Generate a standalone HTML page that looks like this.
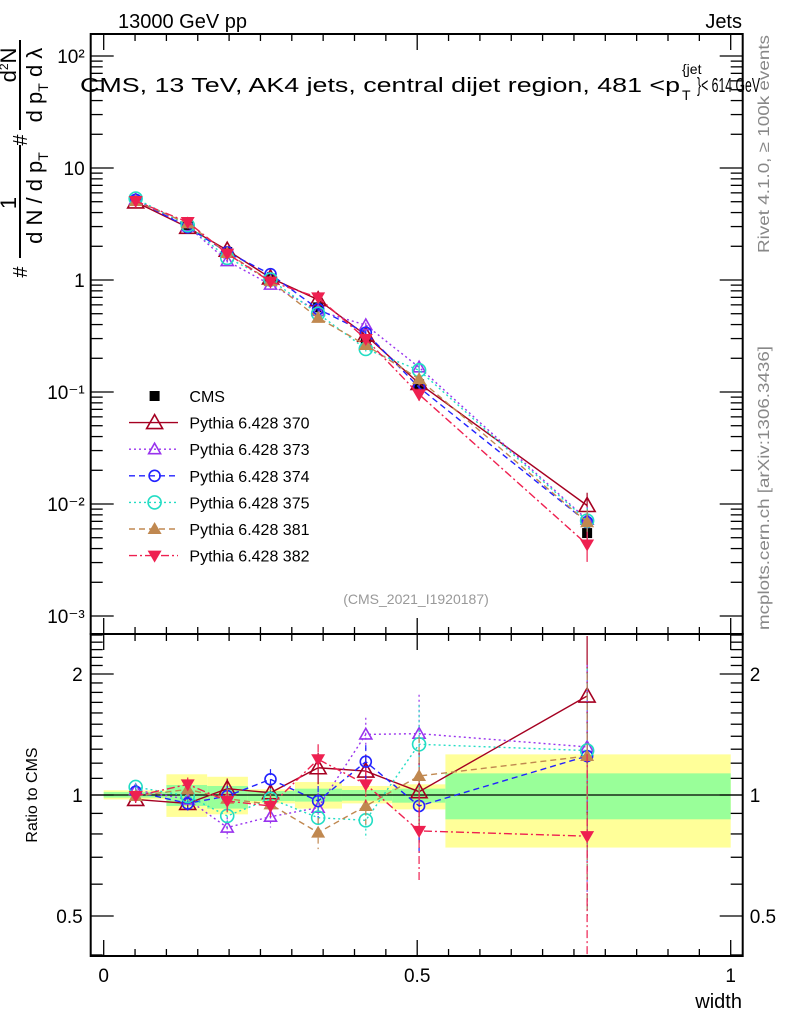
<!DOCTYPE html>
<html><head><meta charset="utf-8"><style>
body{margin:0;background:#fff}
svg text{font-family:"Liberation Sans",sans-serif}
</style></head><body>
<svg id="c" width="786" height="1024" viewBox="0 0 786 1024" xmlns="http://www.w3.org/2000/svg">
<g id="bands"></g>
<g id="marks"></g>
<g id="axes"></g>
<text x="118" y="28" font-size="20">13000 GeV pp</text>
<text x="742" y="28" font-size="20" text-anchor="end">Jets</text>
<text x="80" y="92" font-size="20" textLength="600" lengthAdjust="spacingAndGlyphs">CMS, 13 TeV, AK4 jets, central dijet region, 481 &lt;p</text>
<text x="682" y="74" font-size="14">{jet</text>
<text x="682" y="100" font-size="14">T</text>
<text x="697" y="92" font-size="20" textLength="63" lengthAdjust="spacingAndGlyphs">}&lt; 614 GeV</text>
<text x="416" y="604" font-size="14" fill="#999" text-anchor="middle">(CMS_2021_I1920187)</text>
<text transform="translate(769,144) rotate(-90)" font-size="16" fill="#888" text-anchor="middle" textLength="218" lengthAdjust="spacingAndGlyphs">Rivet 4.1.0, ≥ 100k events</text>
<text transform="translate(769,488) rotate(-90)" font-size="16" fill="#888" text-anchor="middle" textLength="284" lengthAdjust="spacingAndGlyphs">mcplots.cern.ch [arXiv:1306.3436]</text>
<g font-size="22">
<line x1="20" y1="145" x2="20" y2="258" stroke="#000" stroke-width="2"/>
<line x1="20" y1="40" x2="20" y2="130" stroke="#000" stroke-width="2"/>
<text transform="translate(27,272) rotate(-90)" text-anchor="middle" font-size="20">#</text>
<text transform="translate(16,203) rotate(-90)" text-anchor="middle">1</text>
<text transform="translate(42,198) rotate(-90)" text-anchor="middle">d N / d p<tspan font-size="14" dy="6">T</tspan></text>
<text transform="translate(27,140) rotate(-90)" text-anchor="middle" font-size="20">#</text>
<text transform="translate(16,65) rotate(-90)" text-anchor="middle">d<tspan font-size="12" dy="-8">2</tspan><tspan dy="8">N</tspan></text>
<text transform="translate(42,85) rotate(-90)" text-anchor="middle">d p<tspan font-size="14" dy="6">T</tspan><tspan dy="-6"> d λ</tspan></text>
</g>
<text transform="translate(37,795) rotate(-90)" font-size="16" text-anchor="middle">Ratio to CMS</text>
<text x="742" y="1008" font-size="20" text-anchor="end">width</text>
<g id="legend"></g>
</svg>
<script>
const edges=[0,0.1,0.165,0.23,0.305,0.38,0.46,0.545,1];
const xs=[0.051,0.134,0.197,0.266,0.342,0.418,0.503,0.771];
const cms=[5.1,3.1,1.78,1.03,0.57,0.28,0.117,0.0055];
const yelLo=[0.975,0.882,0.895,0.953,0.925,0.953,0.921,0.74];
const yelHi=[1.027,1.126,1.11,1.033,1.077,1.053,1.063,1.262];
const grnLo=[0.985,0.939,0.925,0.966,0.963,0.968,0.957,0.87];
const grnHi=[1.017,1.059,1.053,1.023,1.037,1.029,1.037,1.132];
const r370=[0.975,0.953,1.037,1.013,1.169,1.147,1.019,1.763];
const r373=[1.029,0.975,0.83,0.883,0.93,1.415,1.421,1.317];
const r374=[1.019,0.953,0.994,1.094,0.966,1.21,0.939,1.25];
const r375=[1.047,0.994,0.887,0.979,0.878,0.865,1.337,1.29];
const r381=[0.994,1.033,0.979,0.948,0.806,0.939,1.115,1.25];
const r382=[0.994,1.063,0.966,0.939,1.227,1.063,0.814,0.79];
const relErr=[0.02,0.04,0.06,0.06,0.09,0.1,0.25,0.6];
const legendLabels=["CMS","Pythia 6.428 370","Pythia 6.428 373","Pythia 6.428 374","Pythia 6.428 375","Pythia 6.428 381","Pythia 6.428 382"];
const yTickLabels=["10⁻³","10⁻²","10⁻¹","1","10","10²"];
const rTickVals=[0.5,1,2];
const xTickVals=[0,0.5,1];

const NS="http://www.w3.org/2000/svg";
const L=90.7,R=742.7,T=34,MB=634,RB=956;
const X=v=>103.7+v*627;
const Y=v=>56+(2-Math.log10(v))*112;
const RY=v=>795-Math.log2(v)*121;
function mk(tag,at,parent){const e=document.createElementNS(NS,tag);for(const k in at)e.setAttribute(k,at[k]);parent.appendChild(e);return e;}
const bands=document.getElementById('bands'),marks=document.getElementById('marks'),axes=document.getElementById('axes'),leg=document.getElementById('legend');

for(let i=0;i<xs.length;i++){
  let e=mk('rect',{x:X(edges[i]),y:RY(yelHi[i]),width:X(edges[i+1])-X(edges[i]),height:RY(yelLo[i])-RY(yelHi[i]),fill:'#ffff99'},bands);
  
  
  e=mk('rect',{x:X(edges[i]),y:RY(grnHi[i]),width:X(edges[i+1])-X(edges[i]),height:RY(grnLo[i])-RY(grnHi[i]),fill:'#99ff99'},bands);
  
  
}
const series=[
 {r:r370,c:'#a50021',d:'',m:'tri-open'},
 {r:r373,c:'#9933ee',d:'2,3',m:'tri-open-s'},
 {r:r374,c:'#2222ff',d:'6,4',m:'circ-open-s'},
 {r:r375,c:'#22ddc4',d:'2,3',m:'circ-open'},
 {r:r381,c:'#c08850',d:'6,4',m:'tri-fill'},
 {r:r382,c:'#ee2050',d:'8,3,2,3',m:'tridown-fill'}
];
function marker(g,m,x,y,c){
  let e;
  if(m.startsWith('tri-open')){const s=m.endsWith('-s')?6:8;e=mk('polygon',{points:`${x},${y-s} ${x-s},${y+s*0.75} ${x+s},${y+s*0.75}`,fill:'none',stroke:c,'stroke-width':1.6},g);}
  else if(m.startsWith('circ-open')){e=mk('circle',{cx:x,cy:y,r:m.endsWith('-s')?5.5:6.5,fill:'none',stroke:c,'stroke-width':1.6},g);}
  else if(m==='tri-fill'){e=mk('polygon',{points:`${x},${y-7} ${x-7},${y+5} ${x+7},${y+5}`,fill:c},g);}
  else if(m==='tridown-fill'){e=mk('polygon',{points:`${x},${y+7} ${x-7},${y-5} ${x+7},${y-5}`,fill:c},g);}
  else {e=mk('rect',{x:x-5,y:y-5,width:10,height:10,fill:c},g);}
  return e;
}
let ln=mk('line',{x1:L,x2:R,y1:RY(1),y2:RY(1),stroke:'#000','stroke-width':1.3},marks);


for(let i=0;i<xs.length;i++){
  const m=marker(marks,'sq',X(xs[i]),Y(cms[i]),'#000');
  
  
}
series.forEach((s,si)=>{
  const g=mk('g',{},marks);
  
  
  const mp=xs.map((x,i)=>X(x)+','+Y(cms[i]*s.r[i])).join(' ');
  const rp=xs.map((x,i)=>X(x)+','+RY(s.r[i])).join(' ');
  mk('polyline',{points:mp,fill:'none',stroke:s.c,'stroke-width':1.4,'stroke-dasharray':s.d},g);
  mk('polyline',{points:rp,fill:'none',stroke:s.c,'stroke-width':1.4,'stroke-dasharray':s.d},g);
  for(let i=0;i<xs.length;i++){
    const v=s.r[i],e=relErr[i];
    const hi=v*(1+e),lo=Math.max(v*(1-e),0.4);
    mk('line',{x1:X(xs[i]),x2:X(xs[i]),y1:Math.max(RY(hi),MB+2),y2:Math.min(RY(lo),RB),stroke:s.c,'stroke-width':1.2,'stroke-dasharray':s.d},g);
    mk('line',{x1:X(xs[i]),x2:X(xs[i]),y1:Y(cms[i]*v*(1+e*0.5)),y2:Y(cms[i]*v*(1-e*0.5)),stroke:s.c,'stroke-width':1.2},g);
    const pm=marker(g,s.m,X(xs[i]),Y(cms[i]*v),s.c);
    
    
    const rm=marker(g,s.m,X(xs[i]),RY(v),s.c);
    
    
  }
});
mk('rect',{x:L,y:T,width:R-L,height:MB-T,fill:'none',stroke:'#000','stroke-width':2},axes);
mk('rect',{x:L,y:MB,width:R-L,height:RB-MB,fill:'none',stroke:'#000','stroke-width':2},axes);
for(let k=0;k<=20;k++){
  const v=k*0.05,x=X(v),big=k%10===0,len=big?16:7;
  [[MB,-1],[T,1],[RB,-1],[MB,1]].forEach(([y0,dir])=>{mk('line',{x1:x,x2:x,y1:y0,y2:y0+dir*len,stroke:'#000','stroke-width':1.3},axes);});
}
xTickVals.forEach(v=>{const t=mk('text',{x:X(v),y:982,'font-size':19,'text-anchor':'middle'},axes);t.textContent=String(v);
  
  });
for(let d=-3;d<=2;d++){
  for(let m=1;m<10;m++){
    const v=m*Math.pow(10,d),y=Y(v);if(y<T||y>MB)continue;
    const len=m===1?23:12;
    mk('line',{x1:L,x2:L+len,y1:y,y2:y,stroke:'#000','stroke-width':1.3},axes);
    mk('line',{x1:R,x2:R-len,y1:y,y2:y,stroke:'#000','stroke-width':1.3},axes);
  }
  const t=mk('text',{x:L-6,y:Y(Math.pow(10,d))+7,'font-size':19,'text-anchor':'end'},axes);
  t.textContent=yTickLabels[d+3];
  
  
}
for(let k=4;k<=25;k++){
  const v=k/10,y=RY(v);if(y<MB||y>RB)continue;
  const big=rTickVals.includes(v),len=big?23:12;
  mk('line',{x1:L,x2:L+len,y1:y,y2:y,stroke:'#000','stroke-width':1.3},axes);
  mk('line',{x1:R,x2:R-len,y1:y,y2:y,stroke:'#000','stroke-width':1.3},axes);
}
rTickVals.forEach(v=>{
  let t=mk('text',{x:L-8,y:RY(v)+7,'font-size':19,'text-anchor':'end'},axes);t.textContent=String(v);
  
  
  t=mk('text',{x:R+7,y:RY(v)+7,'font-size':19},axes);t.textContent=String(v);
  
  
});
legendLabels.forEach((lab,i)=>{
  const y=396+i*26.6;
  const g=mk('g',{},leg);
  
  
  if(i===0){marker(g,'sq',154.6,y,'#000');}
  else{const s=series[i-1];mk('line',{x1:129,x2:178,y1:y,y2:y,stroke:s.c,'stroke-width':1.4,'stroke-dasharray':s.d},g);marker(g,s.m,154.6,y,s.c);}
  const t=mk('text',{x:189.4,y:y+6,'font-size':16},g);t.textContent=lab;
});
</script>
</body></html>
